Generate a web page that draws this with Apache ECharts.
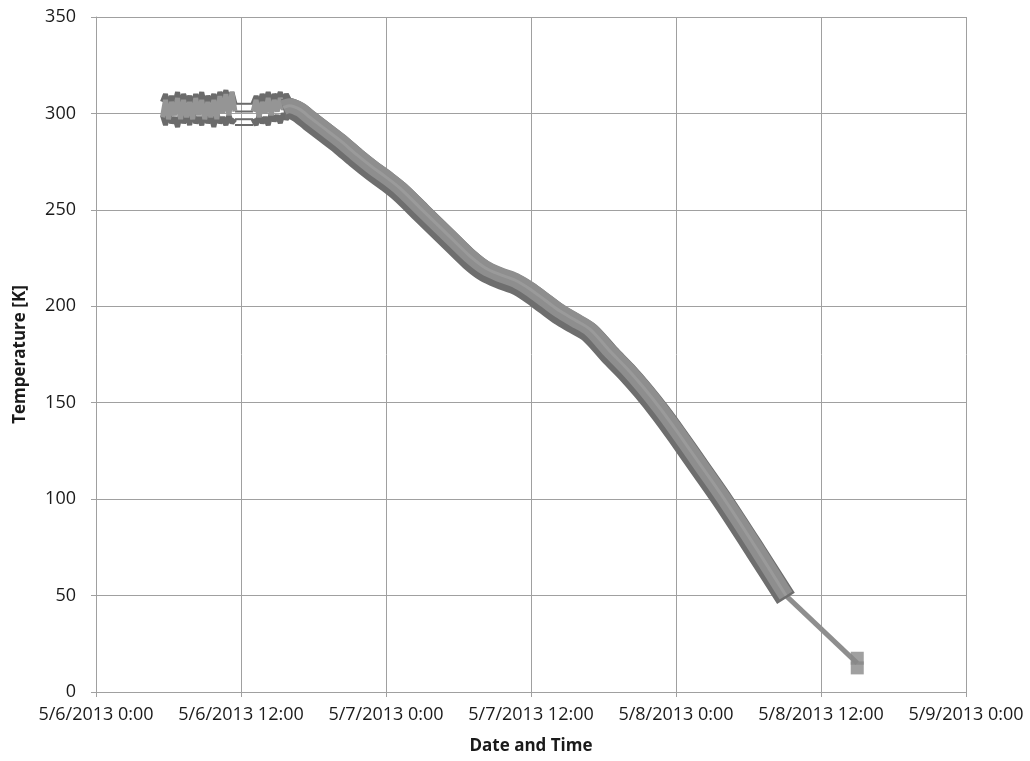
<!DOCTYPE html>
<html>
<head>
<meta charset="utf-8">
<title>Temperature</title>
<script src="https://cdn.jsdelivr.net/npm/echarts@6/dist/echarts.min.js"></script>
<style>
  html, body { margin: 0; padding: 0; background: #fff; }
  #chart { width: 1030px; height: 761px; }
</style>
</head>
<body>
<div id="chart"></div>
<script>
// x values are hours after 5/6/2013 0:00
var tickLabels = ['5/6/2013 0:00', '5/6/2013 12:00', '5/7/2013 0:00', '5/7/2013 12:00',
                  '5/8/2013 0:00', '5/8/2013 12:00', '5/9/2013 0:00'];

// noisy readings while the chamber sits near room temperature (null = no data)
var noiseHours = [5.5, 5.75, 6, 6.25, 6.5, 6.75, 7, 7.25, 7.5, 7.75, 8, 8.25, 8.5, 8.75, 9,
                  9.25, 9.5, 9.75, 10, 10.25, 10.5, 10.75, 11, 11.25, 11.5, 12.25,
                  13, 13.25, 13.5, 13.75, 14, 14.25, 14.5, 14.75, 15, 15.25, 15.5, 15.75, 16];
var noiseHigh = [306, 310, 304, 309, 305, 311, 304, 310, 306, 309, 304, 310, 305, 311, 304,
                 309, 306, 310, 305, 311, 307, 312, 306, 311, 305, null,
                 305, 309, 304, 310, 306, 311, 305, 310, 307, 311, 306, 310, 307];
var noiseLow = [299, 294, 300, 295, 298, 293, 300, 295, 299, 294, 301, 295, 298, 294, 300,
                295, 299, 293, 300, 295, 298, 294, 299, 295, 297, null,
                297, 294, 299, 295, 298, 294, 300, 296, 299, 295, 300, 297, 299];
var noiseMid = [298, 307, 297, 306, 299, 308, 297, 307, 298, 306, 297, 308, 299, 307, 297,
                306, 298, 307, 297, 309, 300, 310, 299, 311, 301, null,
                301, 307, 298, 306, 300, 308, 299, 307, 301, 308, 302, 307, 303];

// sensors bridging the gap in the log
var gapHours = [11.5, 13];
var gapLevels = [305, 301, 297, 294];

// cool down
var mainHours = [15.5, 16, 16.9, 17.7, 18.95, 20.2, 21.5, 22.9, 24, 25.2, 27, 29.3, 30.95, 32.2,
                 33.4, 34.7, 35.9, 37.2, 38.4, 39.6, 40.9, 42.5, 43.9, 45.3, 46.7, 48.1, 50,
                 52, 54.6, 57.1];
var mainLight = [303, 304, 302, 298, 292, 286, 279, 272, 267, 261, 250, 236, 226, 220,
                 216.5, 213.5, 209, 203, 197.5, 193, 188, 177, 168, 158, 147, 135, 118,
                 100, 75, 50];
var mainDark = [302, 302.5, 300, 296, 290, 284, 277, 270, 265, 259, 248, 234, 224, 218,
                214.5, 211.5, 207, 201, 195.5, 191, 186, 175, 166, 156, 145, 133, 116,
                98, 73, 48.5];

// last reading after a gap
var tailHours = [57.1, 63];
var tailTemp = [50, 15];
var endHours = [63, 63];
var endTemp = [17.5, 12.5];

function pairs(xs, ys) {
    return xs.map(function (x, i) { return [x, ys[i]]; });
}

var chart = echarts.init(document.getElementById('chart'));
var font = '"Open Sans", "Liberation Sans", sans-serif';

function noiseSeries(vals, color) {
    return {
        type: 'line', data: pairs(noiseHours, vals), symbol: 'none', connectNulls: false,
        lineStyle: { color: color, width: 5 }, z: 2
    };
}

var series = [];
gapLevels.forEach(function (v) {
    series.push({
        type: 'line', data: pairs(gapHours, [v, v]), symbol: 'none', z: 1,
        lineStyle: { color: '#6b6b6b', width: 2 }
    });
});
series.push(noiseSeries(noiseHigh, '#6b6b6b'));
series.push(noiseSeries(noiseLow, '#6b6b6b'));
series.push(noiseSeries(noiseMid, '#959595'));
series.push({
    type: 'line', data: pairs(tailHours, tailTemp), symbol: 'none', z: 3,
    lineStyle: { color: '#8e8e8e', width: 5 }
});
series.push({
    type: 'line', data: pairs(mainHours, mainDark), symbol: 'none', smooth: 0.3, z: 4,
    lineStyle: { color: '#6e6e6e', width: 21, join: 'round' }
});
series.push({
    type: 'line', data: pairs(mainHours, mainLight), symbol: 'none', smooth: 0.3, z: 5,
    lineStyle: { color: '#8e8e8e', width: 15, join: 'round' }
});
series.push({
    type: 'line', data: pairs(mainHours, mainLight), symbol: 'none', smooth: 0.3, z: 6,
    lineStyle: { color: '#9a9a9a', width: 3, join: 'round' }
});
series.push({
    type: 'scatter', data: pairs(endHours, endTemp), symbol: 'rect', symbolSize: 13, z: 7,
    itemStyle: { color: '#888888' }
});

chart.setOption({
    animation: false,
    backgroundColor: '#fff',
    grid: { left: 96, right: 64, top: 17, bottom: 69, outerBoundsMode: 'none' },
    xAxis: {
        type: 'value', min: 0, max: 72, interval: 12,
        name: 'Date and Time', nameLocation: 'middle', nameGap: 46,
        nameTextStyle: { fontFamily: font, fontWeight: 'bold', fontSize: 17, color: '#1a1a1a' },
        axisLine: { show: true, lineStyle: { color: '#a0a0a0' } },
        axisTick: { show: true, length: 5, lineStyle: { color: '#a0a0a0' } },
        axisLabel: {
            margin: 14, fontFamily: font, fontSize: 18, color: '#1a1a1a',
            formatter: function (v) { return tickLabels[Math.round(v / 12)]; }
        },
        splitLine: { show: true, lineStyle: { color: '#a0a0a0', width: 1 } }
    },
    yAxis: {
        type: 'value', min: 0, max: 350, interval: 50,
        name: 'Temperature [K]', nameLocation: 'middle', nameGap: 67,
        nameTextStyle: { fontFamily: font, fontWeight: 'bold', fontSize: 17, color: '#1a1a1a' },
        axisLine: { show: true, lineStyle: { color: '#a0a0a0' } },
        axisTick: { show: true, length: 5, lineStyle: { color: '#a0a0a0' } },
        axisLabel: { margin: 20, fontFamily: font, fontSize: 18, color: '#1a1a1a' },
        splitLine: { show: true, lineStyle: { color: '#a0a0a0', width: 1 } }
    },
    series: series
});
</script>
</body>
</html>
